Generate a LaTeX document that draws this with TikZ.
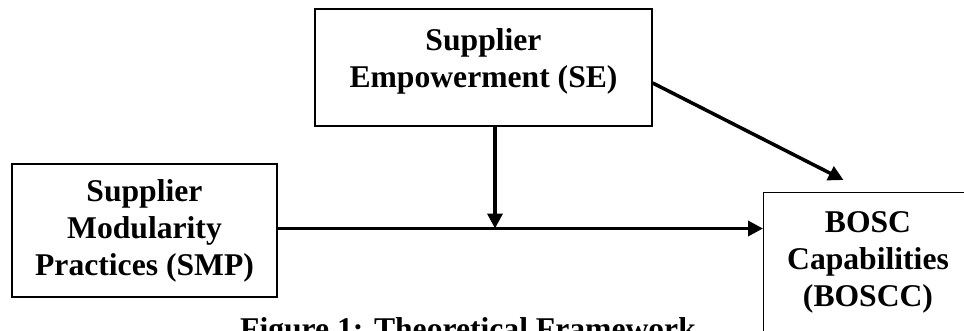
\documentclass[tikz,border=0pt]{standalone}
\usepackage{fontspec}
\setmainfont{Liberation Serif}
\usetikzlibrary{arrows.meta}

\begin{document}
\begin{tikzpicture}[
  >={Triangle[length=0.3cm, width=0.3cm]},
  box/.style={draw, rectangle, line width=0.8pt, inner sep=0pt},
  lab/.style={inner sep=0pt, align=center, font=\fontsize{18}{21}\selectfont\bfseries},
  arr/.style={->, line width=2pt}
]
  \path[use as bounding box, clip] (0,0) rectangle (19.28,-6.6);

  % boxes
  \node (se) [box, minimum width=6.74cm, minimum height=2.34cm] at (9.67,-1.35) {};
  \node (smp) [box, minimum width=5.3cm, minimum height=2.66cm] at (2.89,-4.61) {};
  \node (boscc) [box, anchor=north west, minimum width=4.2cm, minimum height=3.2cm] at (15.26,-3.84) {};

  % texts
  \node (se-lab) [lab] at (9.67,-1.235) {Supplier\\Empowerment (SE)};
  \node (smp-lab) [lab] at (smp) {Supplier\\Modularity\\Practices (SMP)};
  \node (boscc-lab) [lab] at (17.36,-5.24) {BOSC\\Capabilities\\(BOSCC)};

  \coordinate (mod) at (9.9,-4.57);
  \coordinate (tip) at (16.87,-3.6);

  \draw[arr] (smp.east |- mod) -- (boscc.west |- mod);
  \draw[arr] (se.south -| mod) -- (mod);
  \draw[arr] ([yshift=-0.31cm]se.east) -- (tip);

  \node (cap) [lab, anchor=base] at (9.36,-6.79) {Figure 1: Theoretical Framework};
\end{tikzpicture}
\end{document}
